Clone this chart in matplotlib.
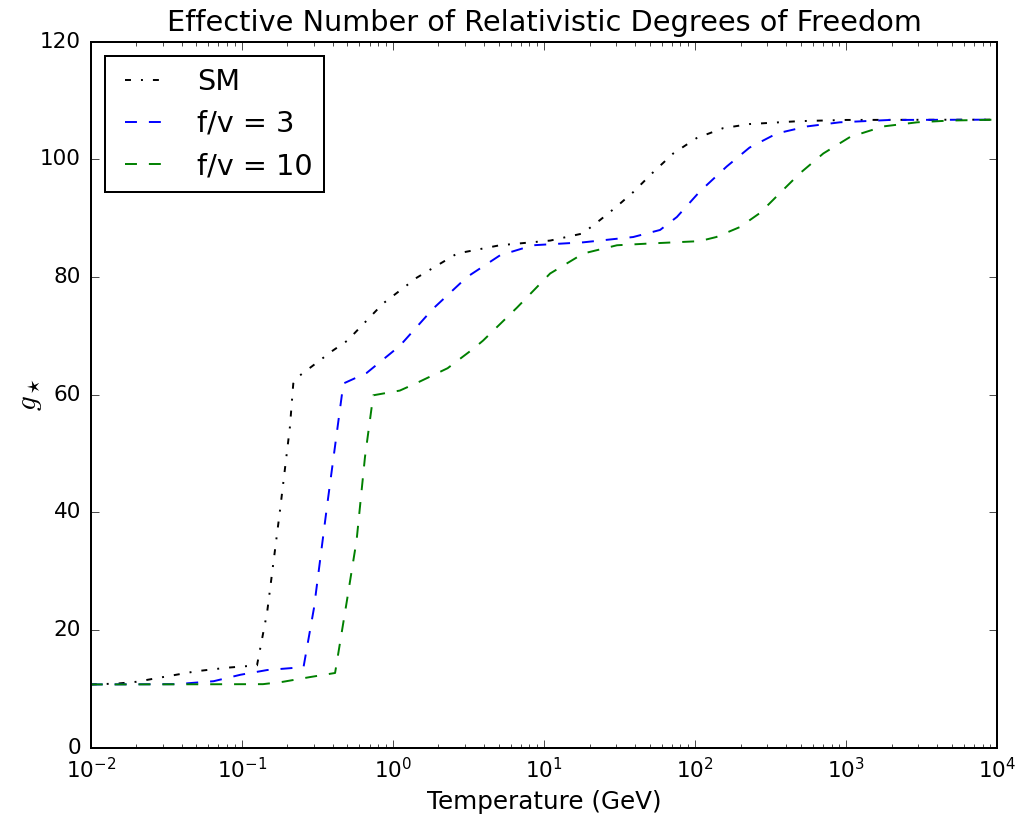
import matplotlib
matplotlib.use('Agg')
import matplotlib.pyplot as plt
import numpy as np

# old-school look: ticks inside, plain legend box, cm mathtext
plt.style.use('classic')
plt.rcParams['savefig.facecolor'] = 'white'
plt.rcParams['figure.facecolor'] = 'white'
# the reference is the classic style blown up by ~1.44
plt.rcParams['lines.linewidth'] = 1.4
plt.rcParams['lines.scale_dashes'] = False
plt.rcParams['lines.dashed_pattern'] = [8.6, 8.6]
plt.rcParams['lines.dashdot_pattern'] = [4.3, 7.2, 1.4, 7.2]
plt.rcParams['axes.linewidth'] = 1.44
plt.rcParams['patch.linewidth'] = 1.44
for a in ('xtick', 'ytick'):
    plt.rcParams[a + '.major.size'] = 5.8
    plt.rcParams[a + '.minor.size'] = 2.9
    plt.rcParams[a + '.major.pad'] = 7
    plt.rcParams[a + '.minor.pad'] = 7

# temperature (GeV) and g_*
T_sm = [0.01, 0.015, 0.02, 0.03, 0.05, 0.08, 0.126, 0.147, 0.179, 0.208, 0.219,
        0.243, 0.4, 0.5, 0.86, 1.44, 2.66, 5.1, 11, 18, 23.5, 30, 38.8, 52.7,
        71.6, 102, 153, 229, 490, 1000, 10000]
g_sm = [10.75, 10.9, 11.2, 12.0, 13.0, 13.6, 14.0, 23.0, 40.4, 54.5, 61.9,
        63.3, 67.5, 69.2, 75.5, 79.9, 84.0, 85.4, 86.2, 87.4, 89.7, 91.9, 94.4, 97.8,
        101.0, 103.6, 105.3, 106.0, 106.5, 106.7, 106.75]

T_fv3 = [0.01, 0.037, 0.065, 0.098, 0.147, 0.256, 0.3, 0.366, 0.47, 0.67, 1.11,
         1.84, 3.09, 5.12, 8.45, 18.2, 38.9, 58.6, 75.7, 107, 162, 229, 347, 550,
         908, 1950, 10000]
g_fv3 = [10.75, 10.8, 11.3, 12.4, 13.2, 13.7, 23.7, 41.0, 61.9, 63.7, 68.3,
         74.6, 80.0, 83.7, 85.4, 85.9, 86.8, 88.0, 90.2, 94.5, 98.8, 102.0, 104.4, 105.6,
         106.3, 106.7, 106.75]

T_fv10 = [0.01, 0.138, 0.187, 0.282, 0.414, 0.496, 0.575, 0.653, 0.741, 1.11, 1.44,
          2.3, 3.4, 3.95, 6.62, 10.97, 18.2, 30.4, 50, 107, 138, 198, 269, 365,
          492, 705, 1059, 1758, 2950, 4900, 10000]
g_fv10 = [10.75, 10.8, 11.2, 12.0, 12.7, 25.0, 35.3, 49.4, 59.9, 60.7, 62.0,
          64.5, 67.8, 69.2, 74.8, 80.6, 84.0, 85.4, 85.7, 86.1, 86.8, 88.5, 90.9, 94.3,
          97.6, 101.0, 103.8, 105.6, 106.3, 106.6, 106.75]

fig = plt.figure(figsize=(10.15, 8.16), dpi=100)
ax = fig.add_axes([0.0894, 0.0837, 0.8932, 0.8652])

ax.plot(T_sm, g_sm, 'k-.', label='SM')
ax.plot(T_fv3, g_fv3, 'b--', label='f/v = 3')
ax.plot(T_fv10, g_fv10, 'g--', label='f/v = 10')

ax.set_xscale('log')
ax.set_xlim(1e-2, 1e4)
ax.set_ylim(0, 120)

ax.tick_params(axis='both', which='major', labelsize=15.5)
ax.set_xlabel('Temperature (GeV)', fontsize=17.7)
ax.set_ylabel(r'$g_\star$', fontsize=21, labelpad=-3)
ax.set_title('Effective Number of Relativistic Degrees of Freedom', fontsize=20.7, pad=8)

ax.legend(loc='upper left', fontsize=20.7)

fig.savefig('out.png', dpi=100)
